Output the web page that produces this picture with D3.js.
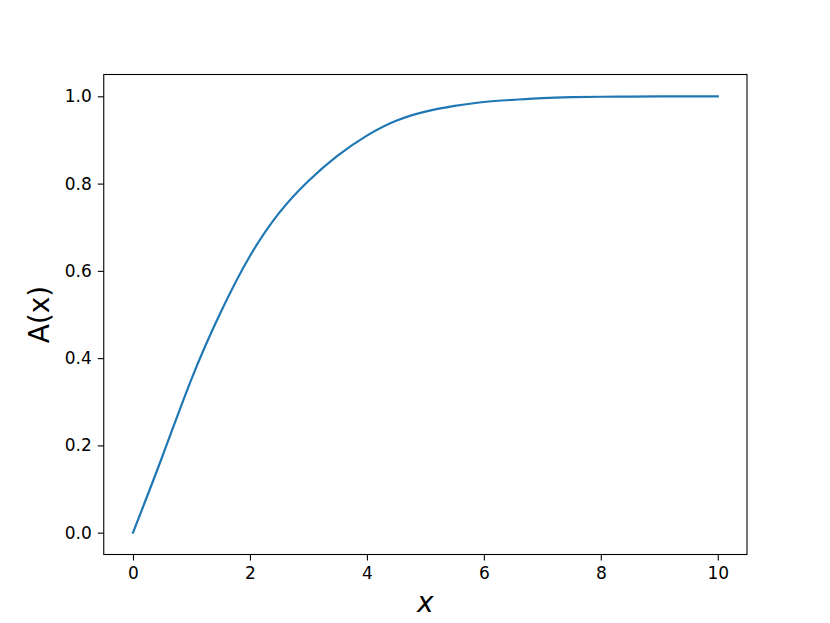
<!DOCTYPE html>
<html>
<head>
<meta charset="utf-8">
<script src="https://cdn.jsdelivr.net/npm/d3@7"></script>
<style>
  body { margin: 0; background: #fff; }
  svg { font-family: "DejaVu Sans", sans-serif; }
</style>
</head>
<body>
<script>
// values, every 0.5
var xValues = [0, 0.5, 1, 1.5, 2, 2.5, 3, 3.5, 4, 4.5, 5,
               5.5, 6, 6.5, 7, 7.5, 8, 8.5, 9, 9.5, 10];
var aValues = [0, 0.174, 0.352, 0.505, 0.634, 0.733, 0.806, 0.864, 0.910, 0.944, 0.965,
               0.978, 0.987, 0.992, 0.996, 0.998, 0.999, 0.9995, 1.0, 1.0, 1.0];
var xTicks = [0, 2, 4, 6, 8, 10];
var yTicks = [0.0, 0.2, 0.4, 0.6, 0.8, 1.0];

var w = 830;
var h = 623;
// matplotlib default subplot box
const margin = {top: 74.5, bottom: 68.5, left: 103.75, right: 83};

var data = xValues.map(function(x, i) { return {x: x, a: aValues[i]}; });

var svg = d3.select("body")
            .append("svg")
            .attr("width", w)
            .attr("height", h);

var xScale = d3.scaleLinear()
               .domain([-0.5, 10.5])
               .range([margin.left, w - margin.right]);

var yScale = d3.scaleLinear()
               .domain([-0.05, 1.05])
               .range([h - margin.bottom, margin.top]);

// axes
const xAxis = d3.axisBottom(xScale)
                .tickValues(xTicks)
                .tickFormat(d3.format("d"))
                .tickSize(6)
                .tickSizeOuter(0)
                .tickPadding(6);

const yAxis = d3.axisLeft(yScale)
                .tickValues(yTicks)
                .tickFormat(d3.format(".1f"))
                .tickSize(6)
                .tickSizeOuter(0)
                .tickPadding(6);

var gx = svg.append("g")
   .attr("transform", "translate(0," + (h - margin.bottom) + ")")
   .call(xAxis);

var gy = svg.append("g")
   .attr("transform", "translate(" + margin.left + ",0)")
   .call(yAxis);

[gx, gy].forEach(function(g) {
  g.select(".domain").remove();
  g.selectAll(".tick line").attr("stroke", "#000").attr("stroke-width", 1.1);
  g.selectAll(".tick text")
   .attr("fill", "#000")
   .attr("font-size", "17px")
   .attr("font-family", "DejaVu Sans");
});

// the curve (natural spline keeps it smooth)
var line = d3.line()
             .x(function(d) { return xScale(d.x); })
             .y(function(d) { return yScale(d.a); })
             .curve(d3.curveNatural);

svg.append("path")
   .datum(data)
   .attr("fill", "none")
   .attr("stroke", "#1f77b4")
   .attr("stroke-width", 2.2)
   .attr("stroke-linecap", "square")
   .attr("d", line);

// frame
svg.append("rect")
   .attr("x", margin.left)
   .attr("y", margin.top)
   .attr("width", w - margin.right - margin.left)
   .attr("height", h - margin.bottom - margin.top)
   .attr("fill", "none")
   .attr("stroke", "#000")
   .attr("stroke-width", 1.1);

// axis labels
svg.append("text")
   .attr("x", (margin.left + w - margin.right) / 2)
   .attr("y", 612)
   .attr("text-anchor", "middle")
   .attr("font-size", "28px")
   .attr("font-style", "italic")
   .text("x");

svg.append("text")
   .attr("transform", "translate(49," + yScale(0.5) + ") rotate(-90)")
   .attr("text-anchor", "middle")
   .attr("font-size", "28px")
   .text("A(x)");
</script>
</body>
</html>
